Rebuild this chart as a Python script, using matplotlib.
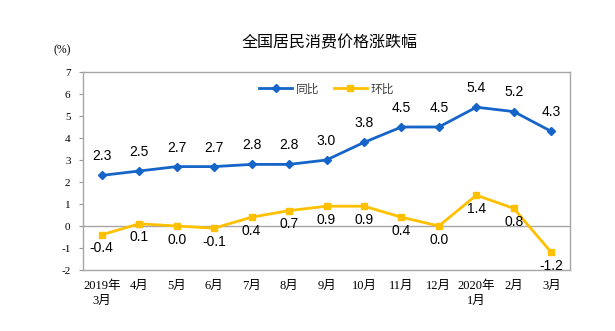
import matplotlib
matplotlib.use("Agg")
import matplotlib.pyplot as plt

categories = ["2019年\n3月", "4月", "5月", "6月", "7月", "8月", "9月", "10月",
              "11月", "12月", "2020年\n1月", "2月", "3月"]
yoy = [2.3, 2.5, 2.7, 2.7, 2.8, 2.8, 3.0, 3.8, 4.5, 4.5, 5.4, 5.2, 4.3]
mom = [-0.4, 0.1, 0.0, -0.1, 0.4, 0.7, 0.9, 0.9, 0.4, 0.0, 1.4, 0.8, -1.2]
yticks = [-2, -1, 0, 1, 2, 3, 4, 5, 6, 7]

cjk = ['Noto Sans CJK SC', 'DejaVu Sans']
serif = ['Liberation Serif', 'Noto Sans CJK SC']
num = ['Liberation Sans', 'DejaVu Sans']

fig = plt.figure(figsize=(6.15, 3.31), dpi=100)
ax = fig.add_axes([83/615, 1-270/331, (570-83)/615, (270-72)/331])

x = list(range(len(categories)))
blue = '#1565C8'
yellow = '#FFC000'
ax.plot(x, yoy, color=blue, lw=2, marker='D', ms=4.5, label='同比', zorder=3)
ax.plot(x, mom, color=yellow, lw=2, marker='s', ms=4.5, label='环比', zorder=3)

for i, v in enumerate(yoy):
    ax.text(i, v + 0.55, f"{v:.1f}", ha='center', va='bottom', fontsize=10,
            family=num)
for i, v in enumerate(mom):
    ax.text(i, v - 0.3, f"{v:.1f}", ha='center', va='top', fontsize=10,
            family=num)

ax.set_xlim(-0.5, len(categories) - 0.5)
ax.set_ylim(-2, 7)
ax.set_yticks(yticks)
ax.set_yticklabels([str(t) for t in yticks], family=serif, fontsize=8)
ax.set_xticks(x)
ax.set_xticklabels(categories, family=serif, fontsize=9, linespacing=1.4)
ax.tick_params(axis='x', length=0, pad=7)
ax.tick_params(axis='y', length=3, color='#999999', pad=6)
for s in ax.spines.values():
    s.set_color('#a6a6a6')
    s.set_linewidth(1)
ax.axhline(0, color='#a6a6a6', lw=1, zorder=1)

leg = ax.legend(loc='upper center', bbox_to_anchor=(0.5, 1.0), ncol=2,
                frameon=False, prop={'family': cjk, 'size': 8.5},
                handlelength=2.8, columnspacing=1.2, handletextpad=0.3)
for t in leg.get_texts():
    t.set_color('#404040')

fig.text(330/615, 1-43/331, "全国居民消费价格涨跌幅", ha='center', va='center',
         fontsize=11.5, family=cjk)
fig.text(62/615, 1-50/331, "(%)", ha='center', va='center', fontsize=8.5,
         family=serif)

fig.savefig("out.png", dpi=100)
